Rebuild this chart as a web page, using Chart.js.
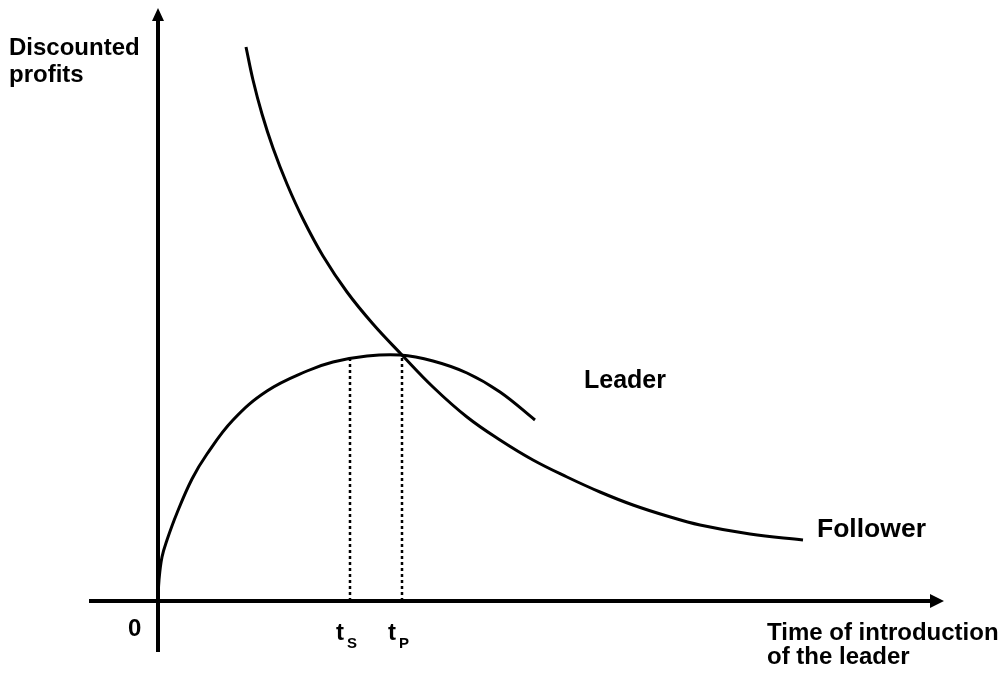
<!DOCTYPE html>
<html>
<head>
<meta charset="utf-8">
<script src="https://cdn.jsdelivr.net/npm/chart.js@4"></script>
<style>
  body { margin: 0; background: #fff; }
  #wrap { width: 1003px; height: 678px; }
</style>
</head>
<body>
<div id="wrap"><canvas id="chart"></canvas></div>
<script>
// curves (time, discounted profits)
var leaderX = [0, 0.1, 0.4, 0.9, 1.9, 3.4, 4.9, 7.5, 10.9, 14.9, 17.5, 20.9, 24.2, 27.5, 30.9, 34.2, 37.7];
var leaderY = [0, 2.1, 4.4, 6.1, 8.8, 12.2, 14.7, 18.1, 21.0, 23.0, 23.9, 24.5, 24.6, 24.0, 22.8, 20.9, 18.1];
var followerX = [8.8, 9.5, 10.4, 11.5, 12.9, 14.5, 16.5, 18.9, 21.5, 24.4, 27.5, 30.9, 34.2, 37.5, 40.9, 44.2, 47.5, 50.9, 54.2, 59.2, 64.5];
var followerY = [55.4, 52.1, 48.7, 45.3, 41.7, 38.2, 34.5, 30.9, 27.7, 24.6, 21.4, 18.4, 16.1, 14.1, 12.4, 10.9, 9.6, 8.5, 7.6, 6.7, 6.1];
// marked times and the leader's profit there
var markNames = ['S', 'P'];
var markX = [19.2, 24.4];
var markY = [24.3, 24.6];

function pts(xs, ys) {
  return xs.map(function(x, i){ return {x: x, y: ys[i]}; });
}

var datasets = [
  { label: 'Leader', data: pts(leaderX, leaderY), borderColor: '#000', borderWidth: 3,
    pointRadius: 0, tension: 0.4, fill: false },
  { label: 'Follower', data: pts(followerX, followerY), borderColor: '#000', borderWidth: 3,
    pointRadius: 0, tension: 0.4, fill: false }
];
markX.forEach(function(x, i){
  datasets.push({ label: 't' + markNames[i], data: [{x: x, y: 0}, {x: x, y: markY[i]}],
    borderColor: '#000', borderWidth: 2.5, borderDash: [3, 3], pointRadius: 0, fill: false });
});

// axes with arrow heads, plus the texts
var decor = {
  id: 'decor',
  afterDatasetsDraw: function(chart) {
    var ctx = chart.ctx, xs = chart.scales.x, ys = chart.scales.y;
    var ox = xs.getPixelForValue(0), oy = ys.getPixelForValue(0);
    var font = function(s){ return 'bold ' + s + 'px "Liberation Sans", Arial, sans-serif'; };
    ctx.save();
    ctx.strokeStyle = '#000';
    ctx.fillStyle = '#000';
    ctx.lineWidth = 4;
    ctx.beginPath();
    ctx.moveTo(89, oy); ctx.lineTo(932, oy);
    ctx.moveTo(ox, 652); ctx.lineTo(ox, 20);
    ctx.stroke();
    ctx.beginPath();
    ctx.moveTo(944, oy); ctx.lineTo(930, oy - 7); ctx.lineTo(930, oy + 7); ctx.closePath();
    ctx.moveTo(ox, 8); ctx.lineTo(ox - 6, 21); ctx.lineTo(ox + 6, 21); ctx.closePath();
    ctx.fill();

    ctx.textBaseline = 'alphabetic';
    ctx.font = font(24);
    ctx.fillText('Discounted', 9, 55);
    ctx.fillText('profits', 9, 82);
    ctx.fillText('0', 128, 636);
    ctx.fillText('Time of introduction', 767, 640);
    ctx.fillText('of the leader', 767, 664);
    ctx.font = font(25);
    ctx.fillText('Leader', 584, 388);
    ctx.font = font(26.5);
    ctx.fillText('Follower', 817, 537);
    markX.forEach(function(x, i){
      var px = xs.getPixelForValue(x);
      ctx.font = font(24);
      ctx.fillText('t', px - 14, 640);
      ctx.font = font(15);
      ctx.fillText(markNames[i], px - 3, 648);
    });
    ctx.restore();
  }
};

new Chart(document.getElementById('chart').getContext('2d'), {
  type: 'scatter',
  data: { datasets: datasets },
  options: {
    responsive: true,
    maintainAspectRatio: false,
    animation: false,
    showLine: true,
    layout: { padding: 0 },
    plugins: { legend: { display: false }, tooltip: { enabled: false }, title: { display: false } },
    scales: {
      x: { type: 'linear', display: false, min: -15.8, max: 84.5 },
      y: { type: 'linear', display: false, min: -7.7, max: 60.1 }
    }
  },
  plugins: [decor]
});
</script>
</body>
</html>
